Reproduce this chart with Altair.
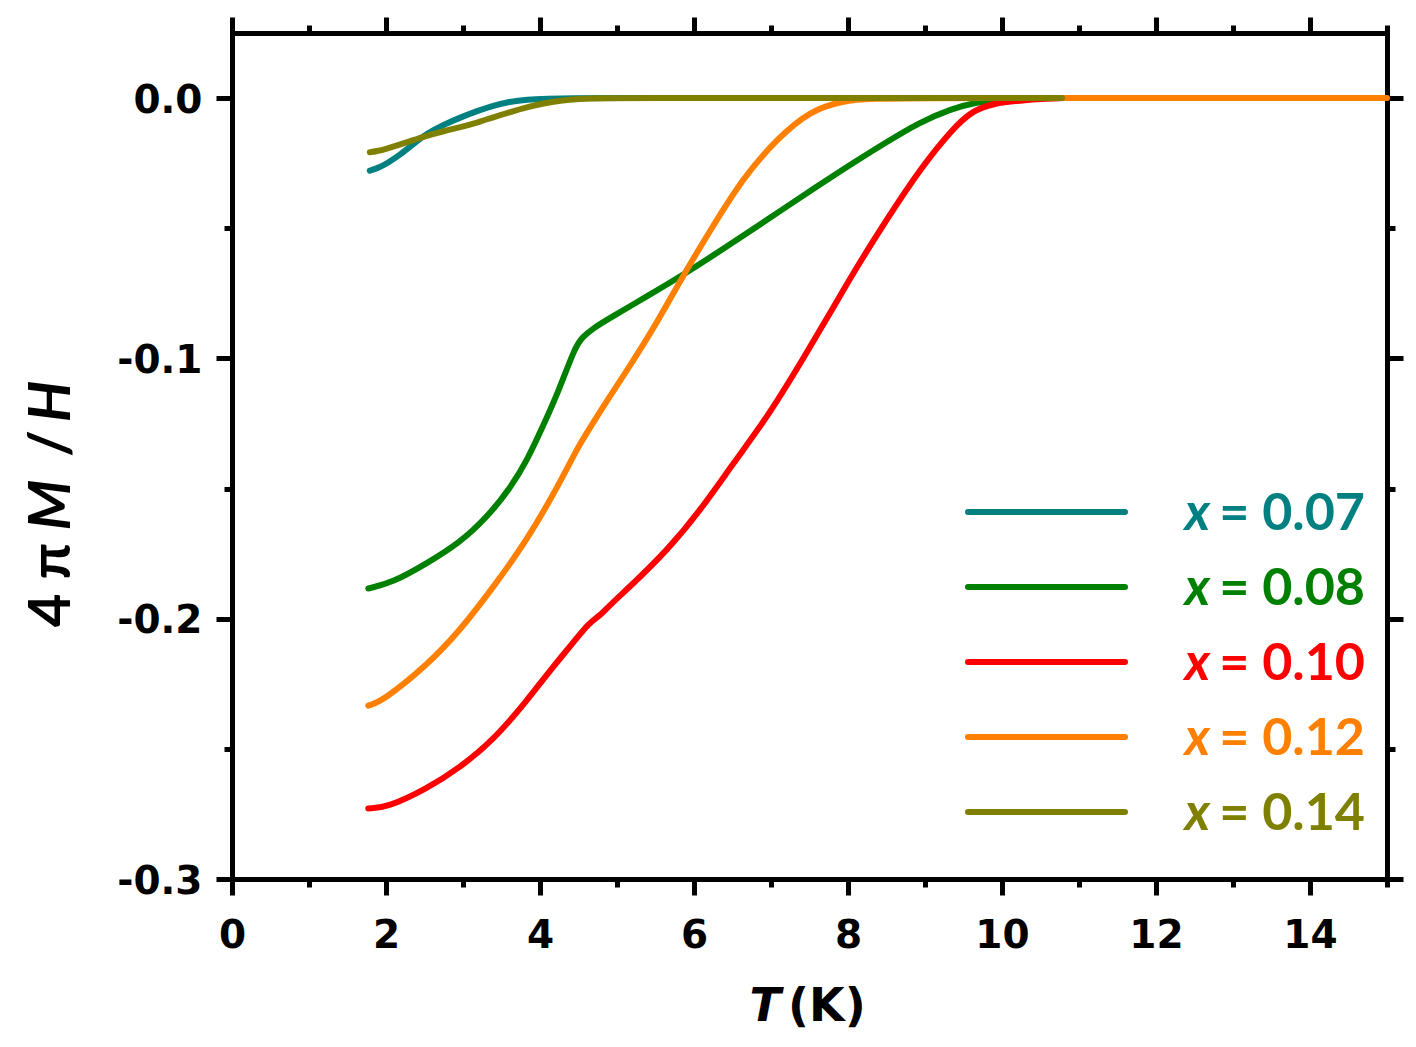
import altair as alt
import pandas as pd

# ---------------- data ----------------
series = ["x = 0.07", "x = 0.08", "x = 0.10", "x = 0.12", "x = 0.14"]
legend_var = ["x", "x", "x", "x", "x"]
legend_val = ["= 0.07", "= 0.08", "= 0.10", "= 0.12", "= 0.14"]
colors = ["#008080", "#008000", "#ff0000", "#ff8000", "#808000"]

T07 = [1.79, 1.9, 2.01, 2.2, 2.35, 2.53, 2.75, 2.96, 3.2, 3.39, 3.6, 3.83, 4.1, 4.4,
       5.0, 6.0, 7.0, 8.0, 9.0, 10.0, 10.78]
V07 = [-0.0279, -0.0268, -0.0252, -0.0214, -0.0178, -0.0136, -0.0102, -0.0075, -0.0048,
       -0.0029, -0.0014, -0.0005, -0.0002, 0, 0, 0, 0, 0, 0, 0, 0]

T08 = [1.77, 2.09, 2.53, 2.96, 3.31, 3.61, 3.83, 4.03, 4.25, 4.45, 4.55, 4.69, 4.85,
       5.45, 5.8, 6.41, 6.93, 7.62, 8.05, 8.49, 8.92, 9.35, 9.66, 9.96, 10.3, 10.78]
V08 = [-0.1884, -0.1861, -0.1788, -0.1708, -0.1611, -0.1500, -0.1393, -0.1266, -0.1120,
       -0.0960, -0.0918, -0.0885, -0.0855, -0.0751, -0.0690, -0.0574, -0.0471, -0.0335,
       -0.0252, -0.0171, -0.0094, -0.0040, -0.0017, -0.0006, -0.0001, 0]

T10 = [1.77, 2.01, 2.53, 2.96, 3.39, 3.83, 4.16, 4.42, 4.64, 4.78, 4.9, 5.21, 5.65,
       6.08, 6.51, 6.95, 7.38, 7.81, 8.06, 8.51, 8.94, 9.36, 9.62, 9.88, 10.23, 10.6, 10.78]
V10 = [-0.2729, -0.2726, -0.2653, -0.2572, -0.2468, -0.2315, -0.2188, -0.2096, -0.2015,
       -0.1988, -0.1950, -0.1865, -0.1738, -0.1585, -0.1403, -0.1227, -0.1020, -0.0805,
       -0.0675, -0.0463, -0.0271, -0.0117, -0.0048, -0.0021, -0.0009, -0.0002, 0]

T12 = [1.77, 1.96, 2.53, 2.96, 3.39, 3.83, 4.26, 4.48, 4.65, 4.87, 5.13, 5.56, 5.82,
       6.21, 6.64, 7.08, 7.51, 7.94, 8.29, 9.0, 10.0, 11.0, 12.0, 13.0, 14.0, 15.0]
V12 = [-0.2334, -0.2315, -0.2180, -0.2046, -0.1880, -0.1700, -0.1477, -0.1347, -0.1266,
       -0.1162, -0.1047, -0.0843, -0.0701, -0.0509, -0.0305, -0.0156, -0.0048, -0.0010,
       -0.0002, 0, 0, 0, 0, 0, 0, 0]

T14 = [1.79, 1.9, 2.01, 2.25, 2.53, 2.75, 2.96, 3.2, 3.39, 3.6, 3.83, 4.05, 4.26, 4.5,
       4.8, 5.5, 6.5, 7.5, 8.5, 9.5, 10.78]
V14 = [-0.0208, -0.0203, -0.0194, -0.0172, -0.0144, -0.0127, -0.0112, -0.0093, -0.0074,
       -0.0055, -0.0035, -0.0020, -0.0010, -0.0003, 0, 0, 0, 0, 0, 0, 0]

x_ticks = list(range(0, 16))
y_ticks = [-0.3, -0.25, -0.2, -0.15, -0.1, -0.05, 0.0]
x_title = ["T", "(K)"]
y_title = ["4 \u03c0", "M", "/", "H"]

# ---------------- build tables ----------------
rows = []
for name, Ts, Vs in zip(series, [T07, T08, T10, T12, T14], [V07, V08, V10, V12, V14]):
    for t, v in zip(Ts, Vs):
        rows.append({"series": name, "T": t, "v": v})
df = pd.DataFrame(rows)
leg = pd.DataFrame({"series": series, "var": legend_var, "val": legend_val})

# ---------------- scales & axes ----------------
xscale = alt.Scale(domain=[0, 15], nice=False, zero=False)
yscale = alt.Scale(domain=[-0.3, 0.025], nice=False, zero=False)
cscale = alt.Scale(domain=series, range=colors)

common = dict(
    title=None, grid=False, domainColor="black", domainWidth=5, domainCap="square",
    tickColor="black", tickWidth=5, labelColor="black", labelFont="DejaVu Sans",
    labelFontWeight="bold", labelFontSize=39, labelFlush=False, labelOverlap=False,
)

x_major = "datum.value % 2 == 0"
y_major = "abs(round(datum.value * 20)) % 2 == 0"


def xaxis(orient, labels):
    return alt.Axis(
        orient=orient, values=x_ticks, labels=labels,
        tickSize={"condition": {"test": x_major, "value": 16}, "value": 8},
        labelExpr=f"{x_major} ? datum.label : ''", labelPadding=21, **common)


def yaxis(orient, labels):
    return alt.Axis(
        orient=orient, values=y_ticks, labels=labels,
        tickSize={"condition": {"test": y_major, "value": 16}, "value": 8},
        labelExpr=(f"{y_major} ? (datum.value == 0 ? '0.0' : '-' + "
                   "format(abs(datum.value), '.1f')) : ''"),
        labelPadding=14, labelOffset=2, **common)


lines = alt.Chart(df).mark_line(strokeWidth=6, interpolate="basis",
                                strokeCap="round", strokeJoin="round").encode(
    x=alt.X("T:Q", scale=xscale, axis=xaxis("bottom", True)),
    y=alt.Y("v:Q", scale=yscale, axis=yaxis("left", True)),
    color=alt.Color("series:N", scale=cscale, legend=None),
)

frame = alt.Chart(df).mark_line(opacity=0).encode(
    x=alt.X("T:Q", scale=xscale, axis=xaxis("top", False)),
    y=alt.Y("v:Q", scale=yscale, axis=yaxis("right", False)),
    detail="series:N",
)

legy = alt.Y("series:N", scale=alt.Scale(type="point", domain=series, range=[479, 779], padding=0),
             axis=None)
legc = alt.Color("series:N", scale=cscale, legend=None)

leg_rules = alt.Chart(leg).mark_rule(strokeWidth=6, strokeCap="round").encode(
    x=alt.value(736), x2=alt.value(893), y=legy, color=legc)
leg_var = alt.Chart(leg).mark_text(align="right", baseline="alphabetic", dy=18, font="Lato",
                                   fontWeight="bold", fontStyle="italic", fontSize=52).encode(
    x=alt.value(978), y=legy, text="var:N", color=legc)
leg_val = alt.Chart(leg).mark_text(align="right", baseline="alphabetic", dy=18, font="Lato",
                                   fontWeight="bold", fontSize=52).encode(
    x=alt.value(1133), y=legy, text="val:N", color=legc)

# axis titles (mixed italic / upright)
one = pd.DataFrame({"k": [0]})
xt1 = alt.Chart(one).mark_text(align="right", baseline="alphabetic", font="DejaVu Sans",
                               fontWeight="bold", fontStyle="italic", fontSize=46,
                               color="black", text=x_title[0]).encode(
    x=alt.value(549), y=alt.value(988))
xt2 = alt.Chart(one).mark_text(align="left", baseline="alphabetic", font="DejaVu Sans",
                               fontWeight="bold", fontSize=46, color="black",
                               text=x_title[1]).encode(
    x=alt.value(556), y=alt.value(988))

ypos = [552, 472, 410.5, 368.5]
ystyle = ["normal", "italic", "normal", "italic"]
ytitle_layers = []
for txt, yp, st in zip(y_title, ypos, ystyle):
    ytitle_layers.append(
        alt.Chart(one).mark_text(align="center", baseline="alphabetic", angle=270,
                                 font="Lato", fontWeight="bold", fontStyle=st,
                                 fontSize=58, color="black", text=txt).encode(
            x=alt.value(-162), y=alt.value(yp)))

chart = alt.layer(
    lines, frame, leg_rules, leg_var, leg_val, xt1, xt2, *ytitle_layers
).resolve_scale(y="independent").resolve_axis(x="independent", y="independent").properties(
    width=1155, height=846,
    autosize=alt.AutoSizeParams(type="none"),
    padding={"left": 224, "top": 25, "right": 21, "bottom": 160},
    background="white",
).configure_view(stroke=None)

chart.save("out.html", embed_options={"renderer": "svg", "actions": False})
